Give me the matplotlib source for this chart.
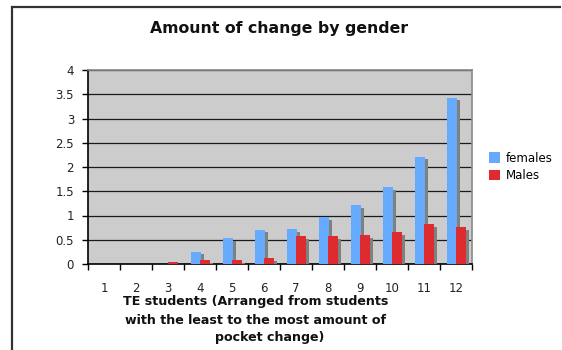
import matplotlib
matplotlib.use("Agg")
import matplotlib.pyplot as plt
from matplotlib.lines import Line2D
from matplotlib.patches import Patch
import numpy as np

students = [1, 2, 3, 4, 5, 6, 7, 8, 9, 10, 11, 12]
females = [0, 0, 0, 0.25, 0.53, 0.70, 0.72, 0.96, 1.21, 1.58, 2.21, 3.43]
males = [0, 0, 0.04, 0.08, 0.08, 0.12, 0.57, 0.57, 0.59, 0.65, 0.82, 0.76]
y_ticks = [0, 0.5, 1, 1.5, 2, 2.5, 3, 3.5, 4]
y_tick_labels = ["0", "0.5", "1", "1.5", "2", "2.5", "3", "3.5", "4"]

BLUE = "#66aaff"
RED = "#de2b30"
SHADOW = "#808080"
PLOT_BG = "#cccccc"

plt.rcParams["font.family"] = ["DejaVu Sans"]

W, H = 562, 350
fig = plt.figure(figsize=(W / 100, H / 100), dpi=100)
fig.patch.set_facecolor("white")

def fx(px):
    return px / W

def fy(py):
    return 1 - py / H

left, right, top, bottom = 88, 472, 70, 264
ax = fig.add_axes([fx(left), fy(bottom), fx(right - left), (bottom - top) / H])
ax.set_facecolor(PLOT_BG)

x = np.array(students, dtype=float)
bw = 0.31
dx = 0.10
dy = 0.05
f_left = x - 0.28
m_left = x

f_sh = np.clip(np.array(females) - dy, 0, None)
m_sh = np.clip(np.array(males) - dy, 0, None)

ax.bar(f_left + dx, f_sh, width=bw, align="edge", color=SHADOW, zorder=2, linewidth=0)
ax.bar(f_left, females, width=bw, align="edge", color=BLUE, zorder=3, linewidth=0)
ax.bar(m_left + dx, m_sh, width=bw, align="edge", color=SHADOW, zorder=4, linewidth=0)
ax.bar(m_left, males, width=bw, align="edge", color=RED, zorder=5, linewidth=0)

ax.set_xlim(0.5, 12.5)
ax.set_ylim(0, 4)

ax.set_yticks(y_ticks)
ax.set_yticklabels(y_tick_labels)
ax.yaxis.grid(True, color="#1a1a1a", linewidth=0.9, zorder=1)
ax.set_axisbelow(True)

# category boundaries get tick marks; labels sit at category centres
ax.set_xticks(np.arange(0.5, 13.0, 1.0))
ax.set_xticklabels([])
ax.set_xticks(x, minor=True)
ax.set_xticklabels([str(s) for s in students], minor=True)
ax.tick_params(axis="x", which="major", direction="out", length=4, width=1, color="black")
ax.tick_params(axis="x", which="minor", length=0, pad=13, labelsize=8.5, labelcolor="#222222")
ax.tick_params(axis="y", direction="out", length=4, width=1, color="black", pad=6,
               labelsize=8.5, labelcolor="#222222")

for s in ("left", "bottom"):
    ax.spines[s].set_color("black")
    ax.spines[s].set_linewidth(1.2)
for s in ("top", "right"):
    ax.spines[s].set_color("#8a8a8a")
    ax.spines[s].set_linewidth(1.2)

fig.text(fx(279), fy(29), "Amount of change by gender", ha="center", va="center",
         fontsize=11.3, fontweight="bold", color="#111111")

xl_lines = [
    ("TE students (Arranged from students", 256, 302),
    ("with the least to the most amount of", 256, 320),
    ("pocket change)", 270, 337),
]
for txt, cx, cy in xl_lines:
    fig.text(fx(cx), fy(cy), txt, ha="center", va="center", fontsize=9.1,
             fontweight="bold", color="#111111")

handles = [Patch(facecolor=BLUE, edgecolor="none"), Patch(facecolor=RED, edgecolor="none")]
fig.legend(handles, ["females", "Males"], loc="center left",
           bbox_to_anchor=(fx(489), fy(167)), frameon=False, fontsize=8.5,
           handlelength=0.95, handleheight=0.95, handletextpad=0.45, labelspacing=0.4,
           borderaxespad=0, borderpad=0)

# outer chart frame (top and left edges)
fig.add_artist(Line2D([fx(12), fx(12)], [fy(7), 0], transform=fig.transFigure,
                      color="#333333", linewidth=1.6))
fig.add_artist(Line2D([fx(12), fx(561)], [fy(7), fy(7)], transform=fig.transFigure,
                      color="#333333", linewidth=1.6, solid_capstyle="butt"))

fig.savefig("out.png", dpi=100, facecolor="white")
